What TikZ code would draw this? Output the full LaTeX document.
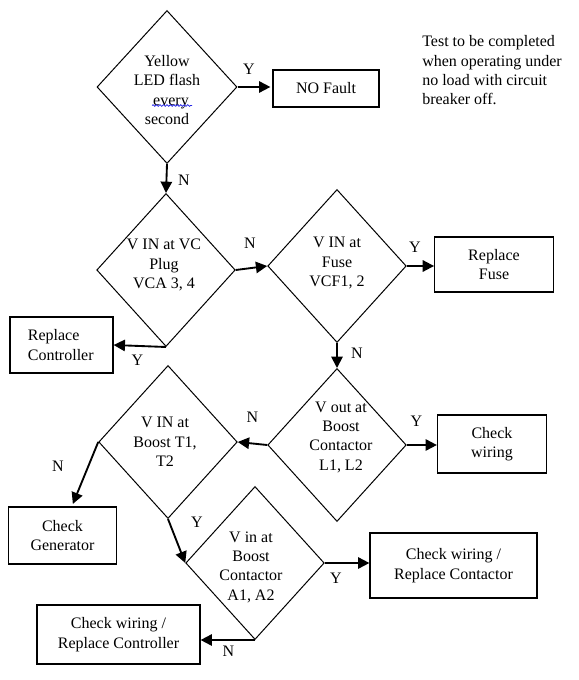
\documentclass[tikz,border=0pt]{standalone}
\usepackage{fontspec}
\setmainfont{Liberation Serif}
\usetikzlibrary{shapes.geometric,arrows.meta,decorations.pathmorphing}
\definecolor{spellblue}{RGB}{40,40,230}
\begin{document}
\begin{tikzpicture}[x=0.75pt,y=-0.75pt,
  every node/.style={font=\fontsize{12}{14.5}\selectfont},
  dia/.style={draw,shape=diamond,inner sep=0pt,minimum width=103.9pt,minimum height=114.75pt,line width=0.75pt},
  box/.style={draw,rectangle,inner sep=0pt,line width=0.9pt,align=center},
  txt/.style={align=center,inner sep=0pt},
  lbl/.style={inner sep=0pt},
  arr/.style={-{Triangle[length=8.5pt,width=8.5pt]},line width=1.4pt},
]
\useasboundingbox (0,0) rectangle (578,680);

% decisions
\node[dia,minimum width=105pt] (d1) at (167,87) {};
\node[txt] (t1) at (167,90) {Yellow\\LED flash\\\hspace*{0.5em}every\\second};
\draw[spellblue,line width=0.6pt,decorate,decoration={snake,amplitude=0.6pt,segment length=2.6pt}] (152,105.5) -- (192,105.5);

\node[dia] (d2) at (166,270) {};
\node[txt] (t2) at (164,265) {V IN at VC\\Plug\\VCA 3, 4};

\node[dia] (d3) at (337,266) {};
\node[txt] (t3) at (337,263) {V IN at\\Fuse\\VCF1, 2};

\node[dia] (d4) at (337,445) {};
\node[txt] (t4) at (341,437) {V out at\\Boost\\Contactor\\L1, L2};

\node[dia] (d5) at (168,442) {};
\node[txt] (t5) at (165,442) {V IN at\\Boost T1,\\T2};

\node[dia] (d6) at (255,563) {};
\node[txt] (t6) at (251,567) {V in at\\Boost\\Contactor\\A1, A2};

% boxes
\node[box,minimum width=79.5pt,minimum height=27.75pt] (nofault) at (326,88.5) {NO Fault};
\node[box,minimum width=89pt,minimum height=41.25pt] (fuse) at (494,264.5) {Replace\\Fuse};
\node[box,minimum width=77.25pt,minimum height=42pt] (rc) at (61.5,345) {};
\node[txt,align=left,anchor=west] (trc) at (27.6,345) {Replace\\Controller};
\node[box,minimum width=81.75pt,minimum height=43.5pt] (cw) at (492,444) {Check\\wiring};
\node[box,minimum width=81pt,minimum height=42.75pt] (cg) at (62.5,535.5) {Check\\Generator};
\node[box,minimum width=125.25pt,minimum height=48.75pt] (rcon) at (453.5,565.5) {Check wiring /\\Replace Contactor};
\node[box,minimum width=122.25pt,minimum height=44.25pt] (cwc) at (118.5,634.5) {Check wiring /\\Replace Controller};

% note
\node[txt,align=left,anchor=west] (note) at (422,70.5) {Test to be completed\\when operating under\\no load with circuit\\breaker off.};

% connectors
\draw[arr,shorten >=1.5pt] (d1.east) -- (d1.east -| nofault.west);
\draw[arr] (d1.south) -- (d2.north);
\draw[arr] (d2.east) -- (d3.west);
\draw[arr] (d3.east) -- (d3.east -| fuse.west);
\draw[arr] (d2.south) -- (rc.east);
\draw[arr] (d3.south) -- (d4.north);
\draw[arr] (d4.west) -- (d5.east);
\draw[arr] (d4.east) -- (d4.east -| cw.west);
\draw[arr,shorten >=2pt] (d5.west) -- ([xshift=7pt]cg.north);
\draw[arr] (d5.south) -- (d6.west);
\draw[arr] (d6.east) -- (d6.east -| rcon.west);
\draw[arr] (d6.south) -- (d6.south -| cwc.east);

% labels
\node[lbl] (y1) at (249,69) {Y};
\node[lbl] (n1) at (184,180) {N};
\node[lbl] (n2) at (250,243) {N};
\node[lbl] (y3) at (415,247) {Y};
\node[lbl] (y2) at (137.5,360) {Y};
\node[lbl] (n3) at (357,353) {N};
\node[lbl] (n4) at (252.5,417) {N};
\node[lbl] (y4) at (416.5,421) {Y};
\node[lbl] (n5) at (58,466) {N};
\node[lbl] (y5) at (197,522) {Y};
\node[lbl] (y6) at (336,578) {Y};
\node[lbl] (n6) at (228.5,651) {N};
\end{tikzpicture}
\end{document}
